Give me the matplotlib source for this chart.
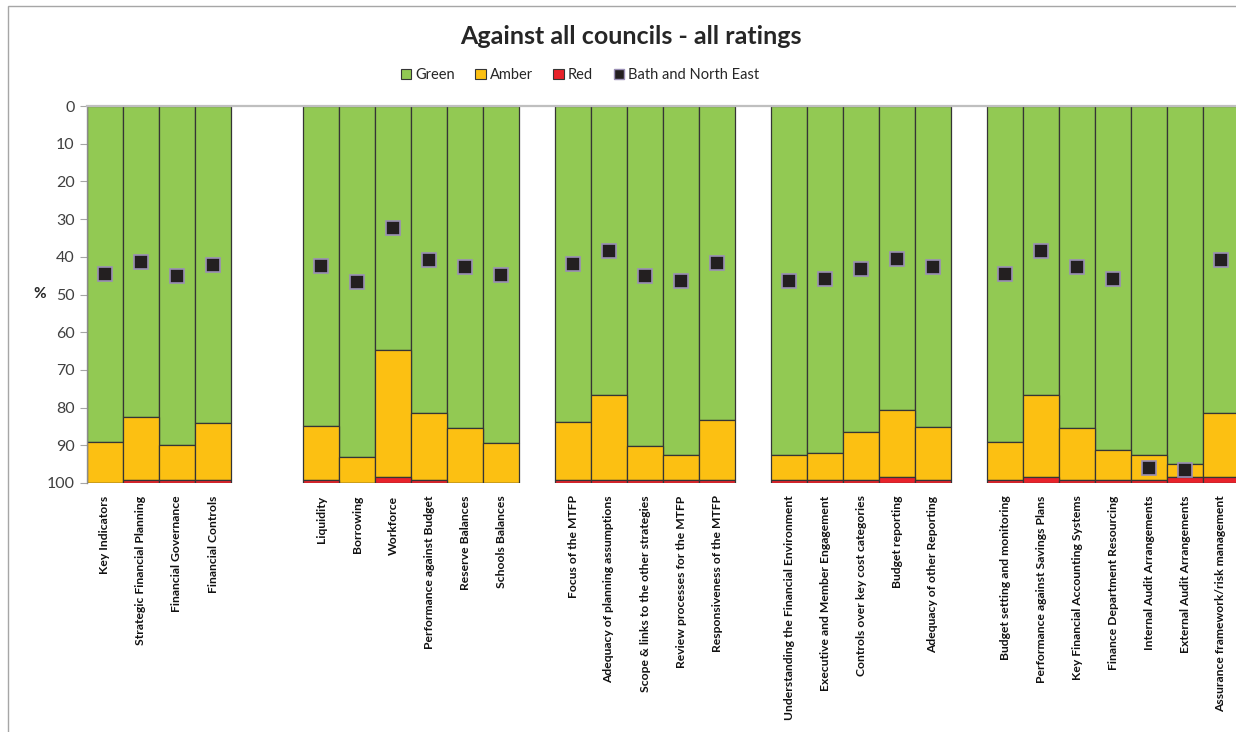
import numpy as np
import matplotlib.pyplot as plt
from matplotlib.patches import Patch, Rectangle
from matplotlib.lines import Line2D

plt.rcParams['font.family'] = ['Lato', 'DejaVu Sans']

# Categories, grouped (blank slots between groups)
labels = [
    'Key Indicators', 'Strategic Financial Planning', 'Financial Governance', 'Financial Controls',
    'Liquidity', 'Borrowing', 'Workforce', 'Performance against Budget', 'Reserve Balances',
    'Schools Balances',
    'Focus of the MTFP', 'Adequacy of planning assumptions', 'Scope & links to the other strategies',
    'Review processes for the MTFP', 'Responsiveness of the MTFP',
    'Understanding the Financial Environment', 'Executive and Member Engagement',
    'Controls over key cost categories', 'Budget reporting', 'Adequacy of other Reporting',
    'Budget setting and monitoring', 'Performance against Savings Plans',
    'Key Financial Accounting Systems', 'Finance Department Resourcing',
    'Internal Audit Arrangements', 'External Audit Arrangements',
    'Assurance framework/risk management',
]
group_sizes = [4, 6, 5, 5, 7]
group_gaps = [2, 1, 1, 1]

# % of councils per rating
green = [89.1, 82.6, 89.9, 84.1,
         84.8, 93.1, 64.7, 81.4, 85.5, 89.5,
         83.9, 76.6, 90.3, 92.7, 83.2,
         92.7, 92.0, 86.4, 80.7, 85.2,
         89.0, 76.6, 85.4, 91.2, 92.7, 94.9, 81.4]
red = [0.0, 0.9, 0.9, 0.9,
       0.8, 0.0, 1.6, 0.8, 0.0, 0.0,
       0.8, 0.8, 0.8, 0.8, 0.8,
       0.8, 0.8, 0.8, 1.6, 0.8,
       0.8, 1.6, 0.8, 0.8, 0.8, 1.6, 1.6]
amber = [100 - g - r for g, r in zip(green, red)]
bath = [44.6, 41.3, 45.0, 42.1,
        42.4, 46.6, 32.3, 40.8, 42.8, 44.9,
        42.0, 38.4, 45.2, 46.4, 41.7,
        46.4, 46.0, 43.2, 40.5, 42.7,
        44.5, 38.4, 42.8, 45.8, 95.9, 96.6, 40.8]

c_green = '#92C953'
c_amber = '#FCC012'
c_red = '#E8222A'
c_edge = '#353535'

# slot positions
x = []
pos = 0
for i, n in enumerate(group_sizes):
    x.extend(range(pos, pos + n))
    pos += n
    if i < len(group_gaps):
        pos += group_gaps[i]
x = np.array(x)
green = np.array(green)
amber = np.array(amber)
red = np.array(red)

W, H = 1236, 732
fig = plt.figure(figsize=(W / 100, H / 100), dpi=100)
ax = fig.add_axes([87 / W, 249 / H, 1152 / W, 377 / H])

ax.bar(x, green, width=1, color=c_green, edgecolor=c_edge, linewidth=0.9)
ax.bar(x, amber, bottom=green, width=1, color=c_amber, edgecolor=c_edge, linewidth=0.9)
ax.bar(x, red, bottom=green + amber, width=1, color=c_red, edgecolor=c_edge, linewidth=0.9)
ax.plot(x, bath, 's', ms=10.5, mfc='#231F20', mec='#9A8FB5', mew=1.2, ls='none', zorder=5)

ax.set_ylim(100, 0)
ax.set_xlim(-0.5, pos - 0.5)
ax.set_yticks(range(0, 101, 10))
ax.tick_params(axis='y', length=5, color='#A6A6A6', labelsize=11.5, labelcolor='#404040', pad=4)
ax.set_xticks(x)
ax.set_xticklabels(labels, rotation=90, fontsize=8.7, fontweight='bold', color='#111111')
ax.tick_params(axis='x', length=0, pad=9)

for s in ['right', 'bottom']:
    ax.spines[s].set_visible(False)
ax.spines['top'].set_color('#BFBFBF')
ax.spines['top'].set_linewidth(1.6)
ax.spines['left'].set_color('#8C8C8C')
ax.spines['left'].set_linewidth(1)

ax.set_ylabel('%', rotation=0, fontsize=11, fontweight='bold', color='#262626', va='center')
ax.yaxis.set_label_coords(-(87 - 40) / 1152, 0.5)

fig.text(631 / W, 1 - 37 / H, 'Against all councils - all ratings', fontsize=18,
         fontweight='bold', ha='center', va='center', color='#262626')

handles = [
    Patch(facecolor=c_green, edgecolor=c_edge, linewidth=0.8, label='Green'),
    Patch(facecolor=c_amber, edgecolor=c_edge, linewidth=0.8, label='Amber'),
    Patch(facecolor=c_red, edgecolor=c_edge, linewidth=0.8, label='Red'),
    Line2D([], [], marker='s', ls='none', mfc='#231F20', mec='#9A8FB5', ms=7.5,
           label='Bath and North East'),
]
fig.legend(handles=handles, loc='center', bbox_to_anchor=(580 / W, 1 - 75 / H), ncol=4,
           frameon=False, fontsize=10.5, handlelength=0.7, handleheight=0.7,
           handletextpad=0.3, columnspacing=1.4, labelcolor='#262626')

fig.add_artist(Rectangle((8 / W, -0.05), 1.2, (H - 6) / H + 0.05, transform=fig.transFigure,
                         fill=False, ec='#A6A6A6', lw=1))

fig.savefig('out.png', dpi=100)
